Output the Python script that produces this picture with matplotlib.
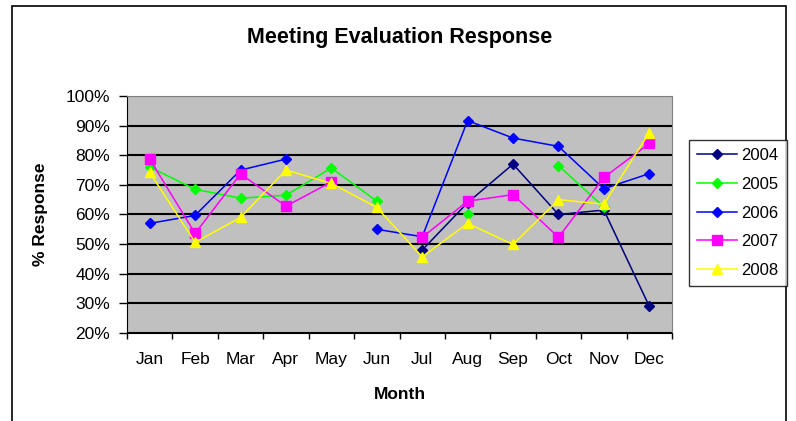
import numpy as np
import matplotlib.pyplot as plt
from matplotlib.patches import Rectangle

plt.rcParams['font.family'] = ['Liberation Sans', 'DejaVu Sans']

nan = np.nan
months = ['Jan', 'Feb', 'Mar', 'Apr', 'May', 'Jun', 'Jul', 'Aug', 'Sep', 'Oct', 'Nov', 'Dec']
years = ['2004', '2005', '2006', '2007', '2008']

r2004 = [nan, nan, nan, nan, nan, nan, 48, 64, 77, 60, 61.5, 29]
r2005 = [76, 68.5, 65.5, 66.5, 75.7, 64.5, nan, 60, nan, 76.5, 62.5, nan]
r2006 = [57, 59.7, 75, 78.7, nan, 55, 52.5, 91.7, 85.8, 83, 68.7, 73.8]
r2007 = [78.7, 53.6, 73.7, 62.8, 71, nan, 52.3, 64.5, 66.7, 52.3, 72.5, 84]
r2008 = [74.2, 50.6, 59, 75, 70.5, 62.4, 45.7, 57, 49.9, 65, 63.5, 87.6]

series = [r2004, r2005, r2006, r2007, r2008]
colors = ['#000080', '#00FF00', '#0000FF', '#FF00FF', '#FFFF00']
markers = ['D', 'D', 'D', 's', '^']
msizes = [5, 5, 5, 7, 7]

fig = plt.figure(figsize=(7.96, 4.21), dpi=100)
ax = fig.add_axes([127/796, 1-333/421, (672-127)/796, (333-96)/421])
ax.set_facecolor('#C0C0C0')

x = np.arange(len(months))
for yr, vals, c, m, ms in zip(years, series, colors, markers, msizes):
    ax.plot(x, vals, color=c, marker=m, markersize=ms, linewidth=1.1, label=yr, zorder=3)

ax.set_xlim(-0.5, 11.5)
ax.set_ylim(20, 100)
ax.set_yticks(range(20, 101, 10))
ax.set_yticklabels([f'{v}%' for v in range(20, 101, 10)], fontsize=12.5)
ax.set_xticks(x)
ax.set_xticklabels(months, fontsize=12.5)
ax.set_xticks(np.arange(-0.5, 12, 1), minor=True)
ax.tick_params(axis='x', which='major', length=0, pad=14)
ax.tick_params(axis='x', which='minor', length=4, direction='out', width=1)
ax.tick_params(axis='y', length=6, direction='out', width=1, pad=6)
ax.grid(axis='y', color='black', linewidth=1.5, zorder=1)
ax.set_axisbelow(True)
for s in ['top', 'right']:
    ax.spines[s].set_color('#808080')
ax.spines['left'].set_color('black')
ax.spines['bottom'].set_color('black')

ax.set_xlabel('Month', fontsize=12.5, fontweight='bold', labelpad=14)
ax.set_ylabel('% Response', fontsize=12.5, fontweight='bold', labelpad=13)
fig.text(400/796, 1-37/421, 'Meeting Evaluation Response', ha='center', va='center',
         fontsize=15.5, fontweight='bold')

leg = fig.legend(loc='upper left', bbox_to_anchor=(689/796, 1-140/421), fontsize=12,
                 frameon=True, fancybox=False, edgecolor='black', handlelength=2.4,
                 labelspacing=0.82, borderpad=0.5, borderaxespad=0, handletextpad=0.25)
leg.get_frame().set_linewidth(1)

fig.patches.append(Rectangle((12/796, -0.05), (786-12)/796, 1.05 - 6/421,
                             transform=fig.transFigure, fill=False,
                             edgecolor='black', linewidth=1.2))

fig.savefig('out.png', dpi=100)
